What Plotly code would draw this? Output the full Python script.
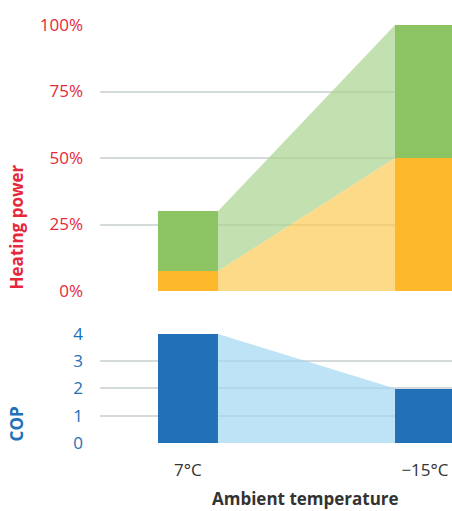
import plotly.graph_objects as go

# ---- data ----
categories = ["7°C", "\u221215°C"]
cat_pos = [0, 1]
power_orange = [7.5, 50]      # % lower (orange) part
power_green = [22.5, 50]      # % upper (green) part
cop_values = [4, 2]
power_ticks = [0, 25, 50, 75, 100]
power_ticklabels = ["0%", "25%", "50%", "75%", "100%"]
cop_ticks = [0, 1, 2, 3, 4]

BAR_W = 0.253
FONT = "Open Sans"
RED = "#E5283B"
BLUE = "#2170B8"
GRID = "#D5DADB"

power_total = [a + b for a, b in zip(power_orange, power_green)]
# inner edges of the two bars
x_left_edge = cat_pos[0] + BAR_W / 2
x_right_edge = cat_pos[1] - BAR_W / 2
fill_x = [x_left_edge, x_right_edge]

fig = go.Figure()

# transition fills (top panel)
fig.add_trace(go.Scatter(x=fill_x, y=power_orange, mode="none", fill="tozeroy",
                         fillcolor="rgba(252,202,85,0.7)", xaxis="x", yaxis="y",
                         hoverinfo="skip", showlegend=False))
fig.add_trace(go.Scatter(x=fill_x, y=power_total, mode="none", fill="tonexty",
                         fillcolor="rgba(169,211,142,0.7)", xaxis="x", yaxis="y",
                         hoverinfo="skip", showlegend=False))
# transition fill (bottom panel)
fig.add_trace(go.Scatter(x=fill_x, y=cop_values, mode="none", fill="tozeroy",
                         fillcolor="rgba(162,214,242,0.7)", xaxis="x2", yaxis="y2",
                         hoverinfo="skip", showlegend=False))

# bars
fig.add_trace(go.Bar(x=cat_pos, y=power_orange, width=BAR_W, marker_color="#FDB92B",
                     marker_line_width=0, xaxis="x", yaxis="y", showlegend=False))
fig.add_trace(go.Bar(x=cat_pos, y=power_green, width=BAR_W, marker_color="#8CC463",
                     marker_line_width=0, xaxis="x", yaxis="y", showlegend=False))
fig.add_trace(go.Bar(x=cat_pos, y=cop_values, width=BAR_W, marker_color=BLUE,
                     marker_line_width=0, xaxis="x2", yaxis="y2", showlegend=False))

xrange = [-0.371, 1.114]
top_dom = [0.3636, 1.0]
bot_dom = [0.0, 0.2608]

fig.update_layout(
    width=452, height=511,
    margin=dict(l=100, r=0, t=25, b=68),
    paper_bgcolor="white", plot_bgcolor="white",
    barmode="stack", bargap=0,
    font=dict(family=FONT, size=17, color="#333333"),
    xaxis=dict(domain=[0, 1], range=xrange, anchor="y", showticklabels=False,
               showgrid=False, zeroline=False, showline=False, fixedrange=True),
    xaxis2=dict(domain=[0, 1], range=xrange, anchor="y2", tickvals=cat_pos,
                ticktext=categories, showgrid=False, zeroline=False, showline=False,
                ticks="", ticklabelstandoff=15,
                tickfont=dict(family=FONT, size=17, color="#333333")),
    yaxis=dict(domain=top_dom, range=[0, 100], tickvals=power_ticks,
               ticktext=power_ticklabels, showgrid=True, gridcolor=GRID, gridwidth=1.5,
               zeroline=False, showline=False, ticks="", ticklabelstandoff=16,
               tickfont=dict(family=FONT, size=17, color=RED)),
    yaxis2=dict(domain=bot_dom, range=[0, 4], tickvals=cop_ticks,
                showgrid=True, gridcolor=GRID, gridwidth=1.5,
                zeroline=False, showline=False, ticks="", ticklabelstandoff=16,
                tickfont=dict(family=FONT, size=17, color=BLUE)),
    annotations=[
        dict(text="<b>Heating power</b>", textangle=-90, xref="paper", yref="paper",
             x=-0.236, y=top_dom[0], xanchor="center", yanchor="bottom",
             showarrow=False, font=dict(family=FONT, size=17, color=RED)),
        dict(text="<b>COP</b>", textangle=-90, xref="paper", yref="paper",
             x=-0.236, y=0, xanchor="center", yanchor="bottom",
             showarrow=False, font=dict(family=FONT, size=17, color=BLUE)),
        dict(text="<b>Ambient temperature</b>", xref="paper", yref="paper",
             x=0.585, y=-0.1316, xanchor="center", yanchor="middle", borderpad=0,
             showarrow=False, font=dict(family=FONT, size=17, color="#333333")),
    ],
)

fig.write_html("out.html")
